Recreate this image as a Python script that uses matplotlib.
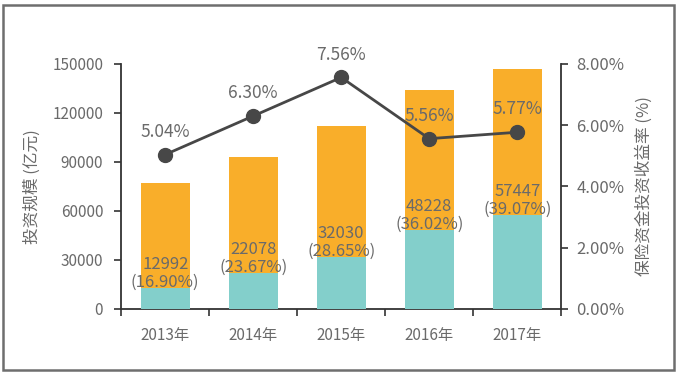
import matplotlib
matplotlib.use("Agg")
import matplotlib.pyplot as plt
from matplotlib.patches import Rectangle

plt.rcParams['font.family'] = ['Noto Sans CJK SC', 'DejaVu Sans']
plt.rcParams['font.weight'] = 'light'

years = ['2013年', '2014年', '2015年', '2016年', '2017年']
equity = [12992, 22078, 32030, 48228, 57447]          # 权益类投资 (teal)
share = [16.90, 23.67, 28.65, 36.02, 39.07]           # 占比 %
total = [76876, 93274, 111798, 133892, 147036]        # 投资规模 (orange top)
yield_rate = [5.04, 6.30, 7.56, 5.56, 5.77]           # 收益率 %

orange = '#F9AE2A'
teal = '#83CFCB'
txt = '#6a6a6a'
linec = '#474747'

fig = plt.figure(figsize=(6.77, 3.74), dpi=100)
ax = fig.add_axes([0.179, 0.174, 0.650, 0.655])
x = list(range(len(years)))
w = 0.56
ax.bar(x, total, width=w, color=orange, zorder=2)
ax.bar(x, equity, width=w, color=teal, zorder=3)

for i in x:
    ax.annotate('%d\n(%.2f%%)' % (equity[i], share[i]), (i, equity[i]),
                xytext=(0, -2), textcoords='offset points', ha='center', va='bottom',
                fontsize=12, color=txt, linespacing=1.05, zorder=5)

ax.set_xlim(-0.5, 4.5)
ax.set_ylim(0, 150000)
ax.set_yticks([0, 30000, 60000, 90000, 120000, 150000])
ax.set_yticklabels(['0', '30000', '60000', '90000', '120000', '150000'])
ax.set_xticks([-0.5, 0.5, 1.5, 2.5, 3.5, 4.5])
ax.set_xticklabels([])
ax.set_xticks(x, minor=True)
ax.set_xticklabels(years, minor=True)
ax.tick_params(axis='x', which='major', length=5, width=1.2, color='#333333', direction='out')
ax.tick_params(axis='x', which='minor', length=0, pad=13, labelsize=11, labelcolor=txt)
ax.tick_params(axis='y', length=5, width=1.2, color='#333333', pad=8, labelsize=11, labelcolor=txt)
ax.set_ylabel('投资规模 (亿元)', fontsize=12, color=txt, labelpad=8)
for s in ['top', 'right']:
    ax.spines[s].set_visible(False)
for s in ['left', 'bottom']:
    ax.spines[s].set_color('#333333')
    ax.spines[s].set_linewidth(1.3)

ax2 = ax.twinx()
ax2.plot(x, yield_rate, color=linec, lw=2, marker='o', ms=10, zorder=6)
for i in x:
    ax2.annotate('%.2f%%' % yield_rate[i], (i, yield_rate[i]), xytext=(0, 10),
                 textcoords='offset points', ha='center', va='bottom',
                 fontsize=12.5, color=txt)
ax2.set_ylim(0, 8)
ax2.set_yticks([0, 2, 4, 6, 8])
ax2.set_yticklabels(['0.00%', '2.00%', '4.00%', '6.00%', '8.00%'])
ax2.tick_params(axis='y', length=5, width=1.2, color='#333333', pad=6, labelsize=12, labelcolor=txt)
ax2.set_ylabel('保险资金投资收益率 (%)', fontsize=12, color=txt, labelpad=8)
for s in ['top', 'left', 'bottom']:
    ax2.spines[s].set_visible(False)
ax2.spines['right'].set_color('#333333')
ax2.spines['right'].set_linewidth(1.3)

fig.patches.append(Rectangle((0.005, 0.012), 0.99, 0.975, transform=fig.transFigure,
                             fill=False, edgecolor='#6e6e6e', lw=1.8))

fig.savefig('out.png', dpi=100)
